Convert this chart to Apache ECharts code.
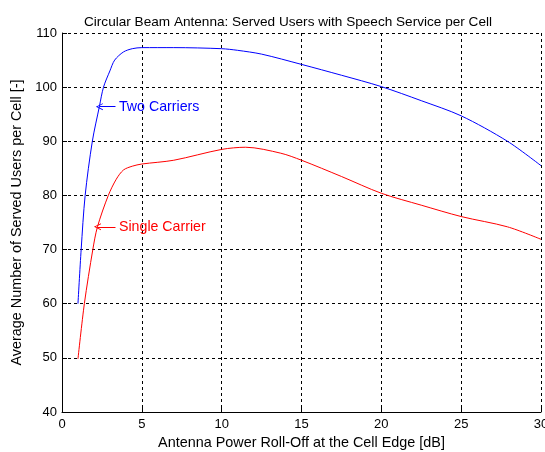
<!DOCTYPE html>
<html><head><meta charset="utf-8">
<script src="https://cdn.jsdelivr.net/npm/echarts@6/dist/echarts.min.js"></script>
<style>html,body{margin:0;padding:0;background:#fff}#c{width:545px;height:452px}</style>
</head><body><div id="c"></div>
<script>
const titleText = 'Circular Beam Antenna: Served Users with Speech Service per Cell';
const xName = 'Antenna Power Roll-Off at the Cell Edge [dB]';
const yName = 'Average Number of Served Users per Cell [-]';
const xTicks = [0, 5, 10, 15, 20, 25, 30];
const yTicks = [40, 50, 60, 70, 80, 90, 100, 110];

const twoX = [1, 1.2, 1.45, 1.9, 2.34, 2.6, 3.0, 3.3, 3.85, 4.4, 5, 7, 10, 11, 12.5, 15, 17.5, 20, 22.5, 25, 27.9, 30];
const twoY = [60, 70, 80, 90, 96.4, 100, 103, 105, 106.5, 107.1, 107.3, 107.3, 107.1, 106.8, 106.1, 104.2, 102.2, 100.1, 97.5, 94.7, 90, 85.5];
const oneX = [1, 1.4, 1.93, 2.22, 2.9, 3.4, 3.85, 4.4, 5, 7, 10, 11.5, 13.7, 15, 17.5, 20, 22.5, 25, 27.9, 30];
const oneY = [49.8, 60, 70, 74.2, 80, 83, 84.7, 85.4, 85.8, 86.5, 88.5, 88.9, 87.8, 86.5, 83.5, 80.4, 78.2, 76.1, 74.2, 71.9];

const twoLabel = { text: 'Two Carriers', tip: [2.34, 96.4], tail: 3.35 };
const oneLabel = { text: 'Single Carrier', tip: [2.22, 74.2], tail: 3.35 };

const zip = (xs, ys) => xs.map((x, i) => [x, ys[i]]);
const chevron = 'path://M5,0 L10,10 L8.6,10 L5,2.6 L1.4,10 L0,10 Z';

function annot(lab, color) {
  return {
    markLine: {
      silent: true, animation: false,
      symbol: ['none', chevron], symbolSize: [7, 7],
      lineStyle: { color: color, width: 1, type: 'solid' },
      label: { show: false },
      data: [[{ coord: [lab.tail, lab.tip[1]] }, { coord: lab.tip }]]
    },
    markPoint: {
      silent: true, animation: false,
      symbol: 'circle', symbolSize: 1,
      itemStyle: { color: 'rgba(0,0,0,0)' },
      label: { show: true, position: 'right', distance: 0, offset: [3, 0], color: color,
        fontFamily: 'Liberation Sans, Arial, sans-serif', fontSize: 14.2, formatter: lab.text },
      data: [{ coord: [lab.tail, lab.tip[1]] }]
    }
  };
}

const font = 'Liberation Sans, Arial, sans-serif';
const chart = echarts.init(document.getElementById('c'), null, { renderer: 'canvas' });
chart.setOption({
  backgroundColor: '#fff',
  animation: false,
  title: { text: titleText, left: 79, top: 10,
    textStyle: { fontFamily: font, fontSize: 13.6, fontWeight: 'normal', color: '#000' } },
  grid: { left: 62, top: 33, right: 4, bottom: 40, containLabel: false, outerBoundsMode: 'none' },
  xAxis: {
    type: 'value', min: xTicks[0], max: xTicks[xTicks.length - 1], interval: 5,
    name: xName, nameLocation: 'middle', nameGap: 22,
    nameTextStyle: { fontFamily: font, fontSize: 14.4, color: '#000' },
    axisLine: { show: true, lineStyle: { color: '#000', width: 1 } },
    axisTick: { show: true, inside: true, length: 5, lineStyle: { color: '#000' } },
    axisLabel: { fontFamily: font, fontSize: 13, color: '#000', margin: 6 },
    splitLine: { show: true, lineStyle: { color: '#000', type: [3, 3], width: 1 } }
  },
  yAxis: {
    type: 'value', min: yTicks[0], max: yTicks[yTicks.length - 1], interval: 10,
    name: yName, nameLocation: 'middle', nameGap: 35,
    nameTextStyle: { fontFamily: font, fontSize: 14.4, color: '#000' },
    axisLine: { show: true, lineStyle: { color: '#000', width: 1 } },
    axisTick: { show: true, inside: true, length: 5, lineStyle: { color: '#000' } },
    axisLabel: { fontFamily: font, fontSize: 13, color: '#000', margin: 5 },
    splitLine: { show: true, lineStyle: { color: '#000', type: [3, 3], width: 1 } }
  },
  series: [
    Object.assign({
      name: 'Two Carriers', type: 'line', data: zip(twoX, twoY),
      showSymbol: false, smooth: 0.3,
      lineStyle: { color: '#0000ff', width: 1 }, itemStyle: { color: '#0000ff' }
    }, annot(twoLabel, '#0000ff')),
    Object.assign({
      name: 'Single Carrier', type: 'line', data: zip(oneX, oneY),
      showSymbol: false, smooth: 0.3,
      lineStyle: { color: '#ff0000', width: 1 }, itemStyle: { color: '#ff0000' }
    }, annot(oneLabel, '#ff0000'))
  ]
});
</script></body></html>
